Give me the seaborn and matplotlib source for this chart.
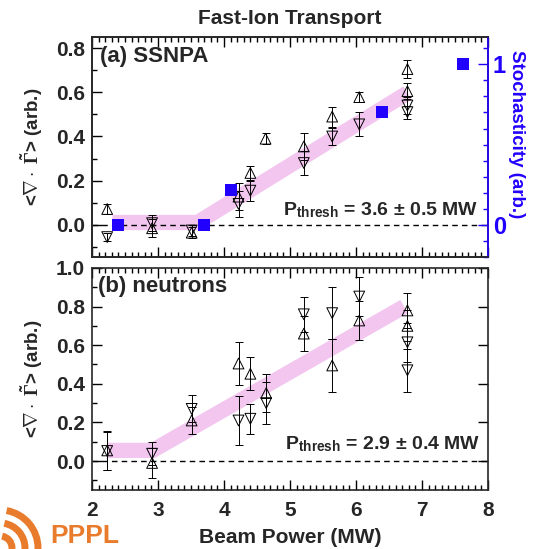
import matplotlib
matplotlib.use("Agg")
import matplotlib.pyplot as plt
from matplotlib.ticker import MultipleLocator, FixedLocator
from matplotlib.patches import Arc
import seaborn as sns
import numpy as np

# ---------------- data ----------------
# (a) SSNPA
ssnpa_up_x = [2.23, 2.91, 3.51, 4.22, 4.40, 4.63, 5.21, 5.64, 6.05, 6.78, 6.78]
ssnpa_up_y = [0.072, -0.015, -0.035, 0.128, 0.235, 0.39, 0.355, 0.49, 0.578, 0.705, 0.605]
ssnpa_up_err = [0.022, 0.04, 0.025, 0.06, 0.032, 0.025, 0.06, 0.045, 0.022, 0.042, 0.035]

ssnpa_dn_x = [2.23, 2.91, 3.51, 4.22, 4.40, 5.21, 5.64, 6.05, 6.78, 6.78]
ssnpa_dn_y = [-0.055, 0.008, -0.025, 0.095, 0.155, 0.28, 0.40, 0.455, 0.54, 0.51]
ssnpa_dn_err = [0.018, 0.035, 0.025, 0.06, 0.045, 0.055, 0.04, 0.055, 0.04, 0.03]

stoch_x = [2.39, 3.70, 4.10, 6.40, 7.62]
stoch_y = [0.0, 0.0, 0.22, 0.705, 1.0]

band_a_x = [2.31, 3.60, 6.78]
band_a_y = [0.011, 0.011, 0.597]

# (b) neutrons
neut_up_x = [2.23, 2.91, 3.51, 4.22, 4.40, 4.64, 5.21, 5.64, 6.05, 6.78, 6.78]
neut_up_y = [0.055, -0.01, 0.21, 0.505, 0.452, 0.352, 0.66, 0.495, 0.728, 0.78, 0.70]
neut_up_err = [0.10, 0.08, 0.07, 0.11, 0.085, 0.10, 0.09, 0.135, 0.10, 0.09, 0.08]

neut_dn_x = [2.23, 2.91, 3.51, 4.22, 4.40, 4.64, 5.21, 5.64, 6.05, 6.78, 6.78]
neut_dn_y = [0.052, 0.038, 0.27, 0.21, 0.219, 0.30, 0.76, 0.766, 0.852, 0.615, 0.47]
neut_dn_err = [0.10, 0.06, 0.07, 0.127, 0.078, 0.11, 0.09, 0.133, 0.10, 0.10, 0.11]

band_b_x = [2.23, 2.92, 6.73]
band_b_y = [0.055, 0.055, 0.80]

xticks = [2, 3, 4, 5, 6, 7, 8]

# ---------------- style ----------------
sns.set_theme(style="ticks")
plt.rcParams["font.family"] = ["Liberation Sans", "DejaVu Sans"]
plt.rcParams["font.weight"] = "bold"
plt.rcParams["mathtext.fontset"] = "custom"
plt.rcParams["mathtext.rm"] = "Liberation Serif"
plt.rcParams["mathtext.it"] = "Liberation Serif:italic"
plt.rcParams["mathtext.bf"] = "Liberation Sans:bold"
plt.rcParams["axes.linewidth"] = 1.2

BLUE = "#2200ff"
PINK = "#f3c6ef"
FS = 15
LFS = 13.5

fig = plt.figure(figsize=(5.35, 5.49), dpi=100)
ax1 = fig.add_axes([0.172, 0.5319, 0.740, 0.4007])
ax2 = fig.add_axes([0.172, 0.1075, 0.740, 0.4044])


def draw_panel(ax, bx, by, ux, uy, ue, dx, dy, de):
    sns.lineplot(x=bx, y=by, ax=ax, color=PINK, lw=11, sort=False,
                 solid_capstyle="butt", solid_joinstyle="miter", zorder=1)
    ax.axhline(0, color="black", lw=1.0, ls=(0, (4, 3)), zorder=2)
    ax.errorbar(ux, uy, yerr=ue, fmt="none", ecolor="black", elinewidth=0.7,
                capsize=3, capthick=0.7, zorder=3)
    ax.errorbar(dx, dy, yerr=de, fmt="none", ecolor="black", elinewidth=0.7,
                capsize=3, capthick=0.7, zorder=3)
    sns.scatterplot(x=ux, y=uy, ax=ax, marker="^", s=60, facecolors="none",
                    edgecolor="black", linewidth=0.7, zorder=4)
    sns.scatterplot(x=dx, y=dy, ax=ax, marker="v", s=60, facecolors="none",
                    edgecolor="black", linewidth=0.7, zorder=4)
    ax.set_xlim(2, 8)
    ax.xaxis.set_major_locator(FixedLocator(xticks))
    ax.xaxis.set_minor_locator(MultipleLocator(0.1))
    ax.yaxis.set_major_locator(MultipleLocator(0.2))
    ax.yaxis.set_minor_locator(MultipleLocator(0.1))
    ax.tick_params(which="both", direction="in", top=True, labelsize=FS,
                   width=1.0, color="black")
    ax.tick_params(which="major", length=7)
    ax.tick_params(which="minor", length=3.5)
    ax.tick_params(axis="x", pad=8)
    ax.tick_params(axis="y", pad=5)
    ax.set_ylabel(r"<$\nabla\cdot\ \tilde{\Gamma}$> (arb.)", fontsize=LFS,
                  fontweight="bold")
    ax.yaxis.set_label_coords(-0.118, 0.5)


draw_panel(ax1, band_a_x, band_a_y, ssnpa_up_x, ssnpa_up_y, ssnpa_up_err,
           ssnpa_dn_x, ssnpa_dn_y, ssnpa_dn_err)
draw_panel(ax2, band_b_x, band_b_y, neut_up_x, neut_up_y, neut_up_err,
           neut_dn_x, neut_dn_y, neut_dn_err)

ax1.set_ylim(-0.145, 0.85)
ax2.set_ylim(-0.15, 1.0)
ax1.tick_params(right=False, labelbottom=False)
ax2.tick_params(right=True)
ax1.set_xlabel("")
ax2.set_xlabel("Beam Power (MW)", fontsize=FS, fontweight="bold", labelpad=6)
ax1.set_yticks([0.0, 0.2, 0.4, 0.6, 0.8])
ax1.set_yticklabels(["0.0", "0.2", "0.4", "0.6", "0.8"], fontweight="bold", fontsize=FS)
ax2.set_yticks([0.0, 0.2, 0.4, 0.6, 0.8, 1.0])
ax2.set_yticklabels(["0.0", "0.2", "0.4", "0.6", "0.8", "1.0"], fontweight="bold", fontsize=FS)
ax2.set_xticklabels([str(t) for t in xticks], fontweight="bold", fontsize=FS)

# twin axis: stochasticity
axr = ax1.twinx()
sns.scatterplot(x=stoch_x, y=stoch_y, ax=axr, marker="s", s=75, color=BLUE,
                linewidth=0, zorder=5)
axr.set_ylim(-0.2, 1.17)
axr.yaxis.set_major_locator(FixedLocator([0, 1]))
axr.yaxis.set_minor_locator(MultipleLocator(0.1))
axr.tick_params(which="both", direction="in", colors=BLUE, labelsize=FS + 2,
                width=1.0)
axr.tick_params(which="major", length=7)
axr.tick_params(which="minor", length=3.5)
axr.set_yticklabels(["0", "1"], fontweight="bold", color=BLUE, fontsize=FS + 2)
axr.spines["right"].set_color(BLUE)
axr.set_ylabel("Stochasticity (arb.)", color=BLUE, fontsize=LFS,
               fontweight="bold", rotation=270, va="bottom")
axr.yaxis.set_label_coords(1.05, 0.56)

# annotations
ax1.text(0.02, 0.91, "(a) SSNPA", transform=ax1.transAxes, fontsize=FS + 1,
         fontweight="bold", va="center", ha="left")
ax2.text(0.015, 0.915, "(b) neutrons", transform=ax2.transAxes, fontsize=FS + 1,
         fontweight="bold", va="center", ha="left")
ax1.text(0.975, 0.19, r"P$_{\mathbf{thresh}}$ = 3.6 ± 0.5 MW", transform=ax1.transAxes,
         fontsize=14, fontweight="bold", ha="right", va="baseline")
ax2.text(0.98, 0.185, r"P$_{\mathbf{thresh}}$ = 2.9 ± 0.4 MW", transform=ax2.transAxes,
         fontsize=14, fontweight="bold", ha="right", va="baseline")

fig.text(290 / 535, 1 - 18 / 549, "Fast-Ion Transport", fontsize=FS,
         fontweight="bold", ha="center", va="center")

# PPPL logo fragment (bottom-left)
ORANGE = "#e87b2c"
fig.text(50 / 535, 1 - 548 / 549, "PPPL", color=ORANGE, fontsize=19,
         fontweight="bold", ha="left", va="bottom")
for r in [12, 25, 38]:
    fig.add_artist(Arc((0.0, 0.01), 2 * r / 100, 2 * r / 100, theta1=-80, theta2=80,
                       transform=fig.dpi_scale_trans, color=ORANGE, lw=5))

fig.savefig("out.png", dpi=100)
